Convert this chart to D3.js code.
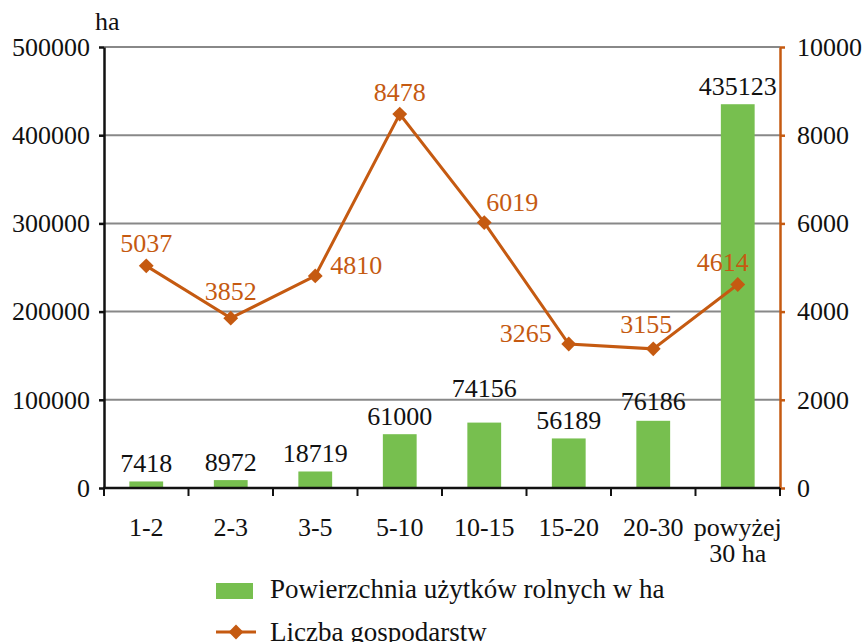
<!DOCTYPE html>
<html>
<head>
<meta charset="utf-8">
<script src="https://cdn.jsdelivr.net/npm/d3@7"></script>
<style>
  body { margin: 0; background: #fff; }
  svg { display: block; font-family: "Liberation Serif", "Times New Roman", serif; }
</style>
</head>
<body>
<div id="chart"></div>
<script>
const categories = ['1-2', '2-3', '3-5', '5-10', '10-15', '15-20', '20-30', 'powyżej 30 ha'];
const area = [7418, 8972, 18719, 61000, 74156, 56189, 76186, 435123];
const farms = [5037, 3852, 4810, 8478, 6019, 3265, 3155, 4614];
const leftTicks = [0, 100000, 200000, 300000, 400000, 500000];
const rightTicks = [0, 2000, 4000, 6000, 8000, 10000];
const seriesNames = ['Powierzchnia użytków rolnych w ha', 'Liczba gospodarstw'];

const width = 864, height = 642;
const plotLeft = 104, plotRight = 780, plotTop = 47, plotBottom = 488;
const green = '#77bf4f', orange = '#c55a11';
const fs = 26;

const svg = d3.select('#chart').append('svg')
    .attr('width', width)
    .attr('height', height);

const x = d3.scaleBand().domain(categories).range([plotLeft, plotRight])
    .paddingInner(0.6).paddingOuter(0.3);
const yL = d3.scaleLinear().domain([0, 500000]).range([plotBottom, plotTop]);
const yR = d3.scaleLinear().domain([0, 10000]).range([plotBottom, plotTop]);
const cx = c => x(c) + x.bandwidth() / 2;

// gridlines
svg.append('g').selectAll('line')
    .data(leftTicks.filter(d => d > 0))
    .join('line')
    .attr('x1', plotLeft).attr('x2', plotRight)
    .attr('y1', d => yL(d)).attr('y2', d => yL(d))
    .attr('stroke', '#888').attr('stroke-width', 2);

// bars
svg.append('g').selectAll('rect')
    .data(categories)
    .join('rect')
    .attr('x', c => x(c))
    .attr('width', x.bandwidth())
    .attr('y', (c, i) => yL(area[i]))
    .attr('height', (c, i) => yL(0) - yL(area[i]))
    .attr('fill', green);

// bar labels (Excel nudges some of them up)
const barDy = { '10-15': 26, '20-30': 11 };
svg.append('g').selectAll('text')
    .data(categories)
    .join('text')
    .attr('x', c => cx(c))
    .attr('y', (c, i) => yL(area[i]) - (barDy[c] || 9))
    .attr('text-anchor', 'middle')
    .attr('font-size', fs)
    .attr('fill', '#111')
    .text((c, i) => area[i]);

// line
const line = d3.line()
    .x((d, i) => cx(categories[i]))
    .y(d => yR(d));
svg.append('path')
    .datum(farms)
    .attr('d', line)
    .attr('fill', 'none')
    .attr('stroke', orange)
    .attr('stroke-width', 3);

const diamond = d3.symbol().type(d3.symbolSquare).size(110);
svg.append('g').selectAll('path')
    .data(farms)
    .join('path')
    .attr('d', diamond)
    .attr('transform', (d, i) => `translate(${cx(categories[i])},${yR(d)}) rotate(45)`)
    .attr('fill', orange);

// line labels: [anchor, dx, dy]
const place = [
    ['middle', 0, -14], ['middle', 0, -18], ['start', 15, -2], ['middle', 0, -13],
    ['start', 2, -12], ['end', -17, -2], ['middle', -7, -16], ['middle', -15, -14]
];
svg.append('g').selectAll('text')
    .data(farms)
    .join('text')
    .attr('x', (d, i) => cx(categories[i]) + place[i][1])
    .attr('y', (d, i) => yR(d) + place[i][2])
    .attr('text-anchor', (d, i) => place[i][0])
    .attr('font-size', fs)
    .attr('fill', orange)
    .text(d => d);

// left axis
const gL = svg.append('g')
    .attr('transform', `translate(${plotLeft},0)`)
    .call(d3.axisLeft(yL).tickValues(leftTicks).tickFormat(d3.format('d'))
        .tickSize(5).tickSizeOuter(0).tickPadding(9));
gL.selectAll('path, line').attr('stroke', '#111').attr('stroke-width', 2.5);
gL.selectAll('text').attr('font-size', fs).attr('fill', '#111')
    .attr('font-family', '"Liberation Serif", serif');

svg.append('text')
    .attr('x', 95).attr('y', 30)
    .attr('font-size', fs).attr('fill', '#111')
    .text('ha');

// right axis
const gR = svg.append('g')
    .attr('transform', `translate(${plotRight},0)`)
    .call(d3.axisRight(yR).tickValues(rightTicks).tickFormat(d3.format('d'))
        .tickSize(5).tickSizeOuter(0).tickPadding(12));
gR.selectAll('path, line').attr('stroke', orange).attr('stroke-width', 2.5);
gR.selectAll('text').attr('font-size', fs).attr('fill', '#111')
    .attr('font-family', '"Liberation Serif", serif');

// bottom axis
const step = x.step();
svg.append('g').selectAll('line')
    .data(d3.range(categories.length + 1))
    .join('line')
    .attr('x1', i => plotLeft + i * step).attr('x2', i => plotLeft + i * step)
    .attr('y1', plotBottom).attr('y2', plotBottom + 8)
    .attr('stroke', '#111').attr('stroke-width', 2);
svg.append('line')
    .attr('x1', plotLeft - 1).attr('x2', plotRight)
    .attr('y1', plotBottom).attr('y2', plotBottom)
    .attr('stroke', '#111').attr('stroke-width', 2.5);

const catLines = c => c.startsWith('powyżej') ? ['powyżej', c.slice(8)] : [c];
svg.append('g').selectAll('text')
    .data(categories)
    .join('text')
    .attr('text-anchor', 'middle')
    .attr('font-size', fs)
    .attr('fill', '#111')
    .each(function (c) {
        d3.select(this).selectAll('tspan')
            .data(catLines(c))
            .join('tspan')
            .attr('x', cx(c))
            .attr('y', (t, j) => 536 + j * 26)
            .text(t => t);
    });

// legend
const lg = svg.append('g');
lg.append('rect')
    .attr('x', 216).attr('y', 583).attr('width', 37).attr('height', 16)
    .attr('fill', green);
lg.append('text')
    .attr('x', 270).attr('y', 598)
    .attr('font-size', 27).attr('fill', '#111')
    .text(seriesNames[0]);
lg.append('line')
    .attr('x1', 216).attr('x2', 256).attr('y1', 632).attr('y2', 632)
    .attr('stroke', orange).attr('stroke-width', 3);
lg.append('path')
    .attr('d', diamond)
    .attr('transform', 'translate(236,632) rotate(45)')
    .attr('fill', orange);
lg.append('text')
    .attr('x', 270).attr('y', 641)
    .attr('font-size', 27).attr('fill', '#111')
    .text(seriesNames[1]);
</script>
</body>
</html>
